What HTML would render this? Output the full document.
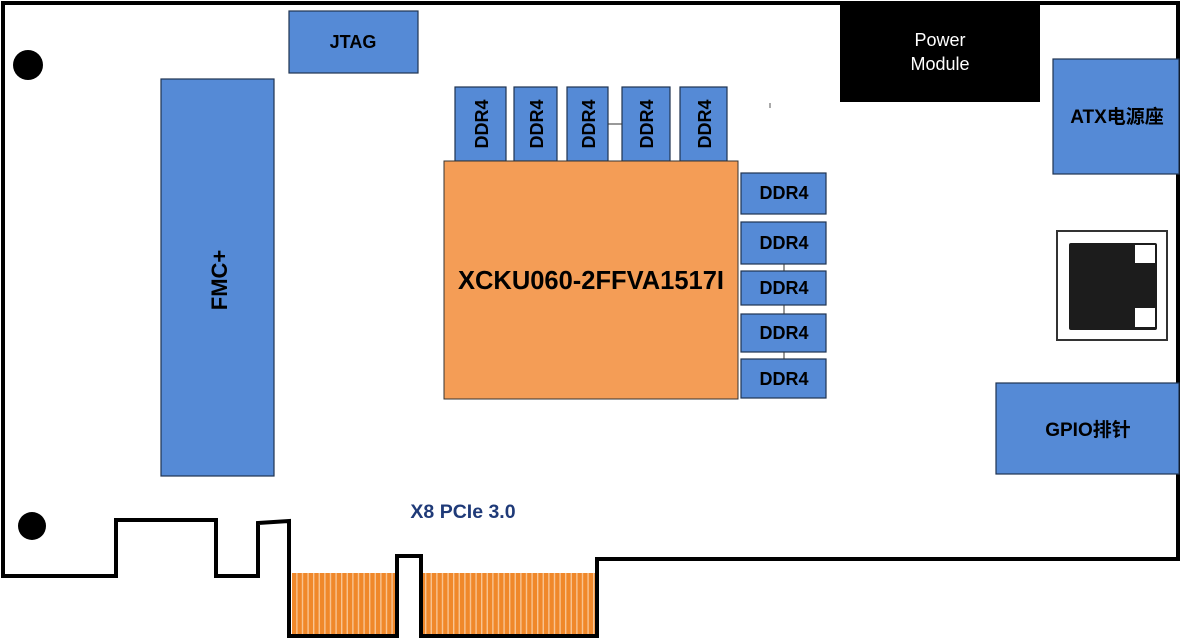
<!DOCTYPE html>
<html><head><meta charset="utf-8"><style>
html,body{margin:0;padding:0;background:#fff;}
svg text{font-family:"Liberation Sans","Noto Sans CJK SC",sans-serif;font-weight:bold;}
</style></head><body>
<svg width="1183" height="639" viewBox="0 0 1183 639" xmlns="http://www.w3.org/2000/svg">
<defs>
<pattern id="fing" x="292" y="0" width="5.6" height="639" patternUnits="userSpaceOnUse">
<rect x="0" y="0" width="4.4" height="639" fill="#f0882a"/>
<rect x="4.4" y="0" width="1.2" height="639" fill="#f7c28e"/>
</pattern>
</defs>
<rect x="292" y="573" width="104" height="62" fill="url(#fing)"/>
<rect x="421" y="573" width="176" height="62" fill="url(#fing)"/>
<path d="M3,3 H1178 V559 H597 V636 H421 V556 H397 V636 H289 V521 L258,523 V576 H216 V520 H116 V576 H3 Z" fill="none" stroke="#000" stroke-width="4" stroke-linejoin="miter"/>
<circle cx="28" cy="65" r="15" fill="#000"/>
<circle cx="32" cy="526" r="14" fill="#000"/>
<g fill="#558ad6" stroke="#1f3350" stroke-width="1.2">
<rect x="161" y="79" width="113" height="397"/>
<rect x="289" y="11" width="129" height="62"/>
<rect x="1053" y="59" width="126" height="115"/>
<rect x="996" y="383" width="183" height="91"/>
<rect x="455" y="87" width="51" height="74"/>
<rect x="514" y="87" width="43" height="74"/>
<rect x="567" y="87" width="41" height="74"/>
<rect x="622" y="87" width="48" height="74"/>
<rect x="680" y="87" width="47" height="74"/>
<rect x="741" y="173" width="85" height="41"/>
<rect x="741" y="222" width="85" height="42"/>
<rect x="741" y="271" width="85" height="34"/>
<rect x="741" y="314" width="85" height="38"/>
<rect x="741" y="359" width="85" height="39"/>
</g>
<line x1="608" y1="124" x2="622" y2="124" stroke="#333" stroke-width="1"/>
<line x1="784" y1="264" x2="784" y2="271" stroke="#333"/>
<line x1="784" y1="305" x2="784" y2="314" stroke="#333"/>
<line x1="784" y1="352" x2="784" y2="359" stroke="#333"/>
<rect x="444" y="161" width="294" height="238" fill="#f49d56" stroke="#333" stroke-width="1"/>
<rect x="840" y="5" width="200" height="97" fill="#000"/>
<rect x="1057" y="231" width="110" height="109" fill="#fff" stroke="#333" stroke-width="2"/>
<rect x="1069" y="243" width="88" height="87" fill="#1c1c1c" rx="2"/>
<rect x="1135" y="245" width="20" height="18" fill="#fff"/>
<rect x="1135" y="308" width="20" height="19" fill="#fff"/>
<g fill="#000" font-size="18" text-anchor="middle">
<text x="353" y="48">JTAG</text>
<text x="1117" y="123" font-size="19">ATX电源座</text>
<text x="1088" y="436" font-size="19">GPIO排针</text>
<text transform="translate(227,280) rotate(-90)" font-size="22">FMC+</text>
<text x="784" y="199">DDR4</text>
<text x="784" y="249">DDR4</text>
<text x="784" y="294">DDR4</text>
<text x="784" y="339">DDR4</text>
<text x="784" y="385">DDR4</text>
<text transform="translate(488,124) rotate(-90)">DDR4</text>
<text transform="translate(543,124) rotate(-90)">DDR4</text>
<text transform="translate(595,124) rotate(-90)">DDR4</text>
<text transform="translate(653,124) rotate(-90)">DDR4</text>
<text transform="translate(711,124) rotate(-90)">DDR4</text>
<text x="591" y="289" font-size="25.5">XCKU060-2FFVA1517I</text>
<text x="463" y="518" font-size="19.5" fill="#1f3a78">X8 PCIe 3.0</text>
</g>
<g fill="#fff" font-size="18" text-anchor="middle">
<text x="940" y="46" style="font-weight:normal">Power</text>
<text x="940" y="70" style="font-weight:normal">Module</text>
</g>
<line x1="770" y1="103" x2="770" y2="108" stroke="#555"/>
</svg>
</body></html>
